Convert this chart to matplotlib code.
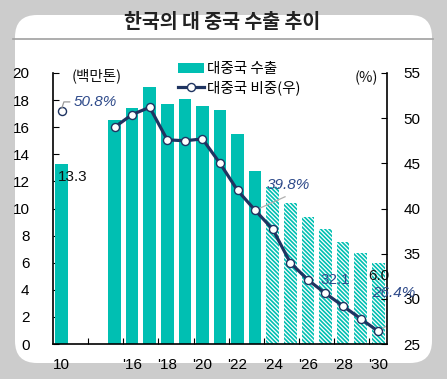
import matplotlib
matplotlib.use("Agg")
import matplotlib.pyplot as plt
from matplotlib.patches import FancyBboxPatch, Patch
from matplotlib.lines import Line2D
from matplotlib.transforms import IdentityTransform
import numpy as np

plt.rcParams['font.family'] = ['Liberation Sans', 'Noto Sans CJK KR', 'DejaVu Sans']
plt.rcParams['hatch.linewidth'] = 1.2

years = [2010, 2015, 2016, 2017, 2018, 2019, 2020, 2021, 2022, 2023,
         2024, 2025, 2026, 2027, 2028, 2029, 2030]
exports = [13.3, 16.5, 17.45, 19.0, 17.7, 18.05, 17.6, 17.25, 15.5, 12.8,
           11.6, 10.4, 9.35, 8.5, 7.5, 6.7, 6.0]
share = [50.8, 49.0, 50.4, 51.2, 47.6, 47.5, 47.7, 45.0, 42.0, 39.8,
         37.7, 34.0, 32.1, 30.6, 29.2, 27.8, 26.4]
forecast_start = 2024
tick_years = [2010, 2016, 2018, 2020, 2022, 2024, 2026, 2028, 2030]
tick_labels = ['10', "'16", "'18", "'20", "'22", "'24", "'26", "'28", "'30"]

TEAL = '#00BFB2'
NAVY = '#1F3461'
LBL = '#2E4A8A'

def pos(y):
    return 0 if y == 2010 else y - 2012

W, H = 447, 379
fig = plt.figure(figsize=(W / 100, H / 100), dpi=100, facecolor='#cccccc')

# white card
card = FancyBboxPatch((15, 379 - 363), 417, 348, boxstyle='round,pad=0,rounding_size=22',
                      transform=IdentityTransform(), facecolor='white', edgecolor='none', zorder=-5)
fig.patches.append(card)
fig.add_artist(Line2D([13 / W, 433 / W], [1 - 39 / H, 1 - 39 / H], color='#a0a0a0', lw=1.2,
                      transform=fig.transFigure, zorder=-4))
fig.text(222 / W, 1 - 22 / H, '한국의 대 중국 수출 추이', ha='center', va='center',
         fontsize=14, fontweight='bold', color='#222222',
         family=['Noto Sans CJK KR', 'DejaVu Sans'])

ax = fig.add_axes([53 / W, 35 / H, 334 / W, 271 / H])
ax.set_facecolor('none')
xs = [pos(y) for y in years]
for x, v, y in zip(xs, exports, years):
    if y < forecast_start:
        ax.bar(x, v, width=0.72, color=TEAL, edgecolor='none', zorder=2)
    else:
        ax.bar(x, v, width=0.72, facecolor='white', edgecolor=TEAL, hatch='\\' * 8,
               linewidth=0, zorder=2)
ax.set_xlim(-0.5, 18.5)
ax.set_ylim(0, 20)
ax.set_yticks(np.arange(0, 21, 2))
ax.set_xticks([pos(y) for y in tick_years])
ax.set_xticklabels(tick_labels)
ax.set_xticks(np.arange(1.5, 18, 2.0), minor=True)
ax.tick_params(axis='x', which='major', length=0, pad=10, labelsize=11)
ax.tick_params(axis='x', which='minor', length=4, direction='in', width=0.8)
ax.tick_params(axis='y', direction='in', length=4, width=0.8, pad=17, labelsize=11)
ax.spines['top'].set_visible(False)
ax.spines['right'].set_visible(False)
for s in ['left', 'bottom']:
    ax.spines[s].set_linewidth(1.2)

ax2 = ax.twinx()
ax2.set_ylim(25, 55)
ax2.set_yticks(np.arange(25, 56, 5))
ax2.tick_params(axis='y', direction='in', length=4, width=0.8, pad=12, labelsize=11)
for s in ['top', 'left', 'bottom']:
    ax2.spines[s].set_visible(False)
ax2.spines['right'].set_linewidth(1.2)

ax2.plot(xs[1:], share[1:], color=NAVY, lw=2.3, zorder=3)
ax2.plot(xs, share, linestyle='none', marker='o', ms=5.8, mfc='white', mec=NAVY, mew=1.0, zorder=4)

# annotations
ax.text(-0.25, 12.3, '13.3', ha='left', va='center', fontsize=11, color='#111111', zorder=5)
ax.text(18.05, 5.0, '6.0', ha='center', va='center', fontsize=11, color='#111111', zorder=5)
ax2.plot([0, 0.12, 0.45], [51.1, 51.8, 51.8], color='#9a9a9a', lw=0.9, zorder=5)
ax2.text(0.68, 51.8, '50.8%', ha='left', va='center', fontsize=11, style='italic', color=LBL, zorder=5)
ax2.plot([11, 12.7], [39.8, 41.3], color='#b0b0b0', lw=0.9, zorder=2.5)
ax2.text(11.65, 42.6, '39.8%', ha='left', va='center', fontsize=11, style='italic', color=LBL, zorder=5)
ax2.text(14.7, 32.1, '32.1', ha='left', va='center', fontsize=11, color=LBL, zorder=5)
ax2.plot([18, 18.8], [26.4, 27.4], color='#b0b0b0', lw=0.9, zorder=2.5)
ax2.text(17.67, 30.6, '26.4%', ha='left', va='center', fontsize=11, style='italic', color=LBL, zorder=5)

fig.text(72 / W, 1 - 76 / H, '(백만톤)', ha='left', va='center', fontsize=10.5,
         family=['Noto Sans CJK KR', 'DejaVu Sans'], color='#111111')
fig.text(355 / W, 1 - 78 / H, '(%)', ha='left', va='center', fontsize=10.5,
         family=['Noto Sans CJK KR', 'DejaVu Sans'], color='#111111')

handles = [Patch(facecolor=TEAL, edgecolor='none'),
           Line2D([], [], color=NAVY, lw=2.3, marker='o', ms=5.8, mfc='white', mec=NAVY, mew=1.0)]
leg = fig.legend(handles, ['대중국 수출', '대중국 비중(우)'], loc='upper left',
                 bbox_to_anchor=(168 / W, 1 - 52 / H), bbox_transform=fig.transFigure,
                 frameon=False, handlelength=1.8, handleheight=0.7,
                 handletextpad=0.2, labelspacing=0.3, borderpad=0.2,
                 prop={'family': ['Noto Sans CJK KR', 'DejaVu Sans'], 'size': 10.5})

fig.savefig('out.png', dpi=100, facecolor=fig.get_facecolor())
